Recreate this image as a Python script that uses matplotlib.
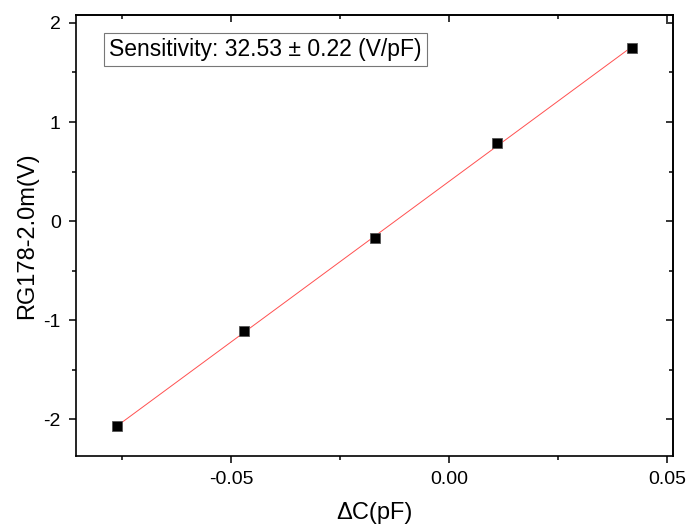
import numpy as np
import matplotlib
matplotlib.use("Agg")
import matplotlib.pyplot as plt
from matplotlib.ticker import MultipleLocator, FixedLocator, FuncFormatter

plt.rcParams['font.family'] = ['Liberation Sans', 'DejaVu Sans']

delta_c = [-0.0761, -0.0470, -0.0169, 0.0111, 0.0420]
voltage = [-2.068, -1.111, -0.169, 0.784, 1.751]
x_ticks = [-0.05, 0.00, 0.05]
y_ticks = [-2, -1, 0, 1, 2]
annotation = "Sensitivity: 32.53 \u00b1 0.22 (V/pF)"

fig = plt.figure(figsize=(6.86, 5.26), dpi=100)
ax = fig.add_axes([0.1108, 0.1331, 0.981 - 0.1108, 0.9715 - 0.1331])

coef = np.polyfit(delta_c, voltage, 1)
xf = np.array([min(delta_c), max(delta_c)])
ax.plot(xf, np.polyval(coef, xf), color='#ff5050', lw=0.7, zorder=2)
ax.plot(delta_c, voltage, ls='none', marker='s', ms=7, mfc='black',
        mec='#555555', mew=0.6, zorder=3)

ax.set_xlim(-0.0856, 0.0514)
ax.set_ylim(-2.37, 2.08)
ax.xaxis.set_major_locator(FixedLocator(x_ticks))
ax.xaxis.set_minor_locator(MultipleLocator(0.025))
ax.yaxis.set_major_locator(FixedLocator(y_ticks))
ax.yaxis.set_minor_locator(MultipleLocator(0.5))
ax.xaxis.set_major_formatter(FuncFormatter(lambda v, p: f"{v:.2f}".replace("-0.00", "0.00")))
ax.yaxis.set_major_formatter(FuncFormatter(lambda v, p: f"{v:.0f}"))

for s in ax.spines.values():
    s.set_linewidth(1.2)

ax.tick_params(which='major', direction='out', length=5, width=1.1, labelsize=14, pad=6)
ax.tick_params(which='minor', direction='out', length=3, width=1.1)
# mirrored inward ticks on top and right
axt = ax.secondary_xaxis('top')
axt.xaxis.set_major_locator(FixedLocator(x_ticks))
axt.xaxis.set_minor_locator(MultipleLocator(0.025))
axt.tick_params(which='major', direction='in', length=5, width=1.1, labeltop=False)
axt.tick_params(which='minor', direction='in', length=3, width=1.1)
axr = ax.secondary_yaxis('right')
axr.yaxis.set_major_locator(FixedLocator(y_ticks))
axr.yaxis.set_minor_locator(MultipleLocator(0.5))
axr.tick_params(which='major', direction='in', length=5, width=1.1, labelright=False)
axr.tick_params(which='minor', direction='in', length=3, width=1.1)
for a in (axt, axr):
    for s in a.spines.values():
        s.set_linewidth(1.2)

ax.set_xlabel("\u0394C(pF)", fontsize=17, labelpad=10)
ax.set_ylabel("RG178-2.0m(V)", fontsize=17, labelpad=4)

ax.text(0.056, 0.922, annotation, transform=ax.transAxes, fontsize=16.5,
        va='center', ha='left',
        bbox=dict(boxstyle='square,pad=0.22', fc='white', ec='#777777', lw=0.8))

fig.savefig("out.png", dpi=100)
